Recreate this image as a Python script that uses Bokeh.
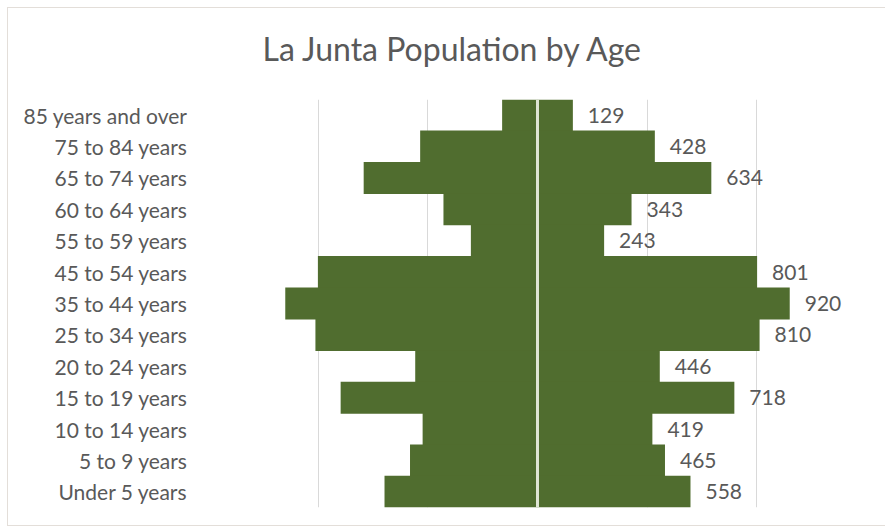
from bokeh.plotting import figure
from bokeh.models import Range1d, FactorRange, FixedTicker, Span, ColumnDataSource, Title
from bokeh.core.properties import value
from bokeh.embed import file_html
from bokeh.resources import INLINE

# ---- data (top to bottom as in the chart) ----
age_groups = ["85 years and over", "75 to 84 years", "65 to 74 years", "60 to 64 years",
              "55 to 59 years", "45 to 54 years", "35 to 44 years", "25 to 34 years",
              "20 to 24 years", "15 to 19 years", "10 to 14 years", "5 to 9 years",
              "Under 5 years"]
population = [129, 428, 634, 343, 243, 801, 920, 810, 446, 718, 419, 465, 558]
grid_ticks = [-1200, -800, -400, 0, 400, 800, 1200]
title_text = "La Junta Population by Age"

FONT = "Lato"
TXT = "#595959"
GREEN = "#506d2f"

cats_bottom_up = list(reversed(age_groups))

src = ColumnDataSource(data=dict(
    cat=age_groups,
    val=population,
    neg=[-v for v in population],
    lbl=[str(v) for v in population],
))

p = figure(width=878, height=519, output_backend="svg", toolbar_location=None,
           x_range=Range1d(-1200, 1200),
           y_range=FactorRange(*cats_bottom_up, range_padding=0),
           min_border_left=200, min_border_right=20, min_border_top=91, min_border_bottom=20)

p.margin = (7, 0, 0, 7)
p.styles = {"border": "1px solid #e3ded9", "border-right": "none"}
p.outline_line_color = None
p.background_fill_color = "white"
p.border_fill_color = "white"

# title (a thin spacer between the plot area and the title lifts the title)
p.title = None
spacer = Title(text=" ", text_font_size="1px", standoff=11)
main_title = Title(text=title_text, text_font=FONT, text_font_size="32px",
                   text_font_style="normal", text_color=TXT, align="left",
                   offset=54, standoff=36)
p.add_layout(spacer, "above")
p.add_layout(main_title, "above")

# grid
p.ygrid.grid_line_color = None
p.xgrid.ticker = FixedTicker(ticks=grid_ticks)
p.xgrid.grid_line_color = "#d9d9d9"
p.xgrid.grid_line_width = 1

# axes
p.xaxis.visible = False
yax = p.yaxis[0]
yax.axis_line_color = None
yax.major_tick_line_color = None
yax.minor_tick_line_color = None
yax.major_tick_in = 0
yax.major_tick_out = 0
yax.major_label_standoff = 21
yax.major_label_text_font = FONT
yax.major_label_text_font_size = "21px"
yax.major_label_text_color = TXT

# bars
p.hbar(y="cat", left="neg", right=0, height=1.02, source=src,
       fill_color=GREEN, line_color=None)
p.hbar(y="cat", left=0, right="val", height=1.02, source=src,
       fill_color=GREEN, line_color=None)

# data labels (right side)
p.text(x="val", y="cat", text="lbl", source=src, x_offset=15,
       text_font=value(FONT), text_font_size="21px", text_color=TXT,
       text_baseline="middle", text_align="left")

# centre line
p.add_layout(Span(location=0, dimension="height", line_color="#dfe5d4", line_width=3))

open("out.html", "w").write(file_html(p, INLINE))
